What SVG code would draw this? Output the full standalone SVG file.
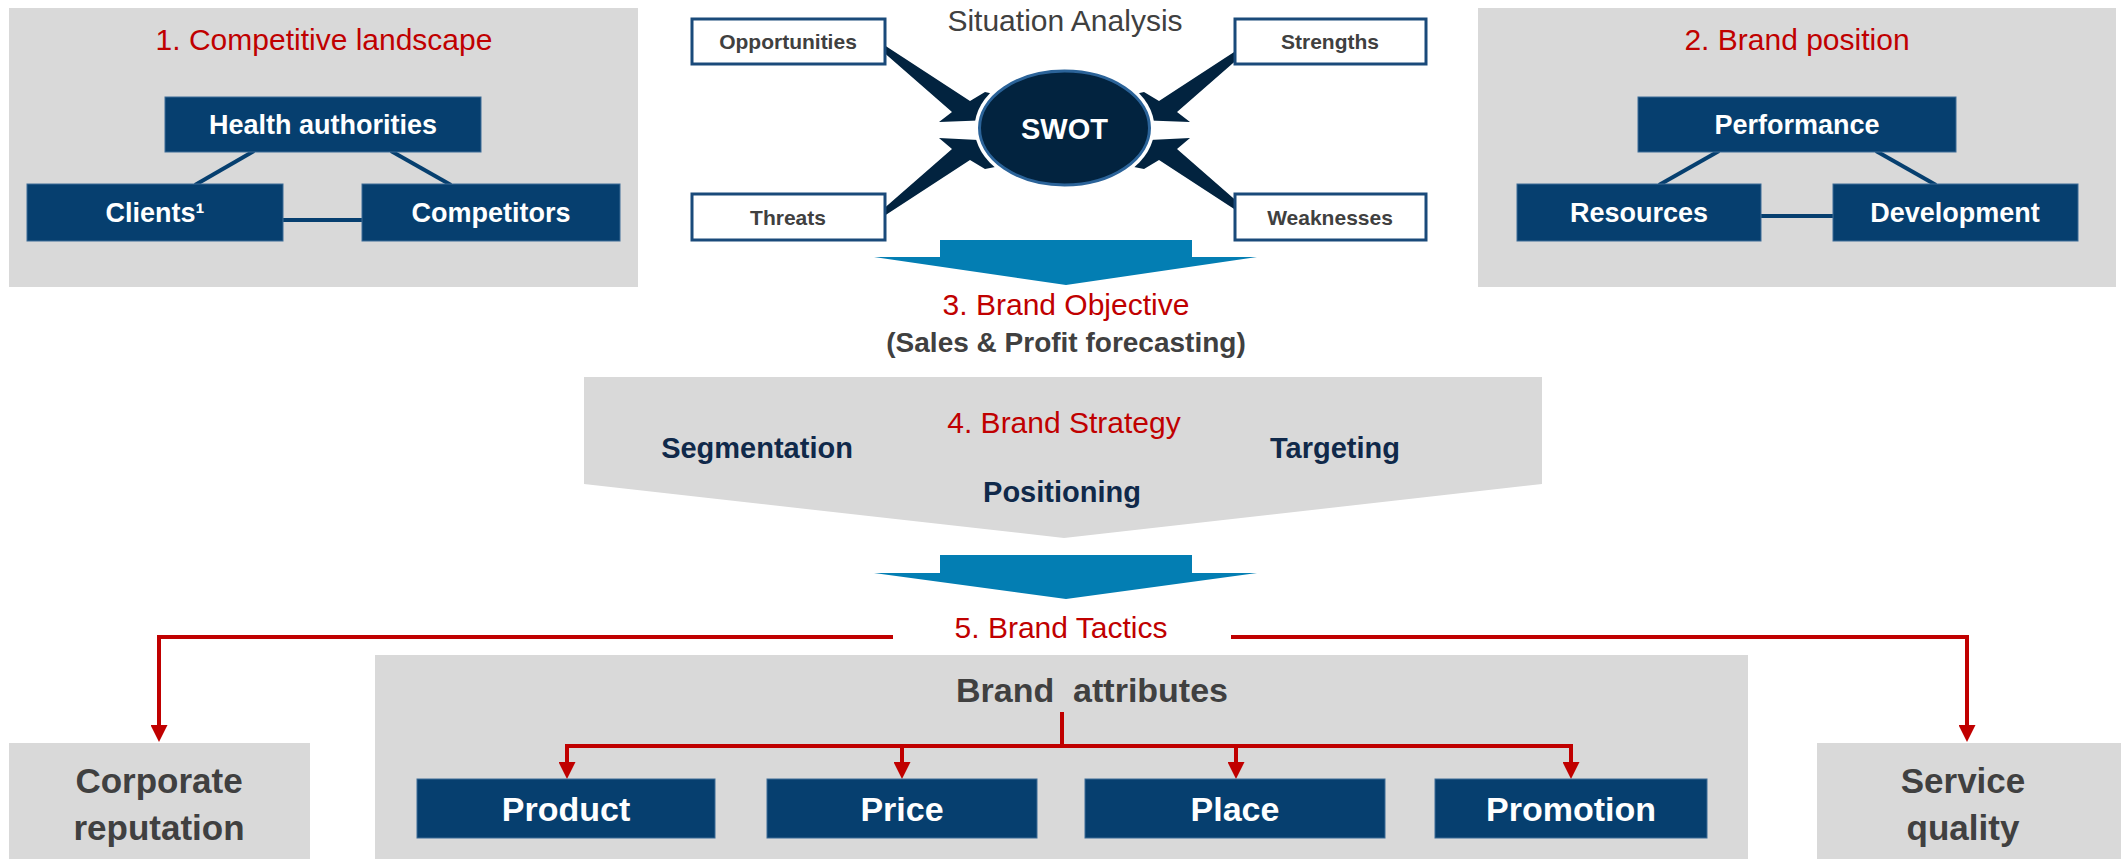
<svg xmlns="http://www.w3.org/2000/svg" width="2121" height="859" viewBox="0 0 2121 859">
<style>
text{font-family:"Liberation Sans",Arial,sans-serif;text-anchor:middle}
.panel{fill:#D9D9D9}
.node{fill:#063F6F;stroke:#3D6C97;stroke-width:1}
.nt{fill:#FFFFFF;font-weight:bold;font-size:27px}
.big{fill:#FFFFFF;font-weight:bold;font-size:34px}
.red{fill:#C00000;font-size:30px}
.sbox{fill:#FFFFFF;stroke:#1A4A7A;stroke-width:3}
.st{fill:#404040;font-weight:bold;font-size:21px}
.gt{fill:#404040;font-weight:bold;font-size:35px}
.navy{fill:#10294A;font-weight:bold;font-size:29px}
.link{stroke:#063F6F;stroke-width:4;fill:none}
.spike{fill:#02233F}
.blue{fill:#037EB3}
.rl{stroke:#C00000;stroke-width:4;fill:none}
</style>
<defs>
<marker id="ah" markerUnits="userSpaceOnUse" markerWidth="18" markerHeight="17" refX="1" refY="8.5" orient="auto">
<path d="M0,0 L17,8.5 L0,17 z" fill="#C00000"/>
</marker>
</defs>

<!-- panels -->
<rect id="panel-competitive" class="panel" x="9" y="8" width="629" height="279"/>
<rect id="panel-brand-position" class="panel" x="1478" y="8" width="638" height="279"/>

<!-- connectors -->
<g id="connectors">
<line class="link" x1="254" y1="151" x2="195" y2="185"/>
<line class="link" x1="391" y1="151" x2="451" y2="185"/>
<line class="link" x1="283" y1="220" x2="362" y2="220"/>
<line class="link" x1="1719" y1="151" x2="1659" y2="185"/>
<line class="link" x1="1876" y1="151" x2="1936" y2="185"/>
<line class="link" x1="1761" y1="216" x2="1833" y2="216"/>
<polygon class="spike" points="878,41 970,101 985,92 1020,100 1020,119 939,122 952,112 881,50"/>
<polygon class="spike" points="939,138 1020,142 1020,162 985,169 970,160 878,220 881,211 952,149"/>
<polygon class="spike" points="1251,41 1159,101 1144,92 1109,100 1109,119 1190,122 1177,112 1248,50"/>
<polygon class="spike" points="1190,138 1109,142 1109,162 1144,169 1159,160 1251,220 1248,211 1177,149"/>
<polygon class="blue" points="940,240 1192,240 1192,257 1257,257 1066,285 874,257 940,257"/>
<polygon class="blue" points="940,555 1192,555 1192,573 1257,573 1066,599 874,573 940,573"/>
<path class="rl" d="M893,637 H159 V726" marker-end="url(#ah)"/>
<path class="rl" d="M1231,637 H1967 V726" marker-end="url(#ah)"/>
</g>

<!-- section 1 -->
<text id="title-1" class="red" x="324" y="50">1. Competitive landscape</text>
<g id="node-health"><rect class="node" x="165" y="97" width="316" height="55"/><text class="nt" x="323" y="134">Health authorities</text></g>
<g id="node-clients"><rect class="node" x="27" y="184" width="256" height="57"/><text class="nt" x="155" y="222">Clients¹</text></g>
<g id="node-competitors"><rect class="node" x="362" y="184" width="258" height="57"/><text class="nt" x="491" y="222">Competitors</text></g>

<!-- section 2 -->
<text id="title-2" class="red" x="1797" y="50">2. Brand position</text>
<g id="node-performance"><rect class="node" x="1638" y="97" width="318" height="55"/><text class="nt" x="1797" y="134">Performance</text></g>
<g id="node-resources"><rect class="node" x="1517" y="184" width="244" height="57"/><text class="nt" x="1639" y="222">Resources</text></g>
<g id="node-development"><rect class="node" x="1833" y="184" width="245" height="57"/><text class="nt" x="1955" y="222">Development</text></g>

<!-- SWOT -->
<text id="situation" x="1065" y="31" fill="#404040" font-size="30">Situation Analysis</text>
<g id="node-opportunities"><rect class="sbox" x="692" y="19" width="193" height="45"/><text class="st" x="788" y="49">Opportunities</text></g>
<g id="node-strengths"><rect class="sbox" x="1235" y="19" width="191" height="45"/><text class="st" x="1330" y="49">Strengths</text></g>
<g id="node-threats"><rect class="sbox" x="692" y="194" width="193" height="46"/><text class="st" x="788" y="225">Threats</text></g>
<g id="node-weaknesses"><rect class="sbox" x="1235" y="194" width="191" height="46"/><text class="st" x="1330" y="225">Weaknesses</text></g>
<g id="node-swot">
<ellipse cx="1064.5" cy="128" rx="90" ry="62" fill="#FFFFFF"/>
<ellipse cx="1064.5" cy="128" rx="85" ry="57" fill="#02233F" stroke="#2B6399" stroke-width="3"/>
<text x="1064.5" y="139" fill="#FFFFFF" font-weight="bold" font-size="29">SWOT</text>
</g>

<!-- 3 -->
<g id="node-objective">
<text class="red" x="1066" y="315">3. Brand Objective</text>
<text x="1066" y="352" fill="#404040" font-weight="bold" font-size="28">(Sales &amp; Profit forecasting)</text>
</g>

<!-- 4 -->
<g id="node-strategy">
<polygon class="panel" points="584,377 1542,377 1542,484 1064,538 584,484"/>
<text class="red" x="1064" y="433">4. Brand Strategy</text>
<text class="navy" x="757" y="458">Segmentation</text>
<text class="navy" x="1335" y="458">Targeting</text>
<text class="navy" x="1062" y="502">Positioning</text>
</g>

<!-- 5 -->
<text id="tactics" class="red" x="1061" y="638">5. Brand Tactics</text>
<g id="node-corporate"><rect class="panel" x="9" y="743" width="301" height="116"/><text class="gt" x="159" y="793">Corporate</text><text class="gt" x="159" y="840">reputation</text></g>
<g id="node-service"><rect class="panel" x="1817" y="743" width="304" height="116"/><text class="gt" x="1963" y="793">Service</text><text class="gt" x="1963" y="840">quality</text></g>
<g id="node-attributes">
<rect class="panel" x="375" y="655" width="1373" height="204"/>
<text x="1092" y="702" fill="#404040" font-weight="bold" font-size="34" xml:space="preserve">Brand  attributes</text>
</g>
<g id="connectors-attributes">
<path class="rl" d="M1062,712 V746"/>
<path class="rl" d="M567,763 V746 H1571 V763" marker-end="url(#ah)" marker-start="none"/>
<path class="rl" d="M567,746 V763" marker-end="url(#ah)"/>
<path class="rl" d="M902,746 V763" marker-end="url(#ah)"/>
<path class="rl" d="M1236,746 V763" marker-end="url(#ah)"/>
</g>
<g id="node-product"><rect class="node" x="417" y="779" width="298" height="59"/><text class="big" x="566" y="821">Product</text></g>
<g id="node-price"><rect class="node" x="767" y="779" width="270" height="59"/><text class="big" x="902" y="821">Price</text></g>
<g id="node-place"><rect class="node" x="1085" y="779" width="300" height="59"/><text class="big" x="1235" y="821">Place</text></g>
<g id="node-promotion"><rect class="node" x="1435" y="779" width="272" height="59"/><text class="big" x="1571" y="821">Promotion</text></g>
</svg>
